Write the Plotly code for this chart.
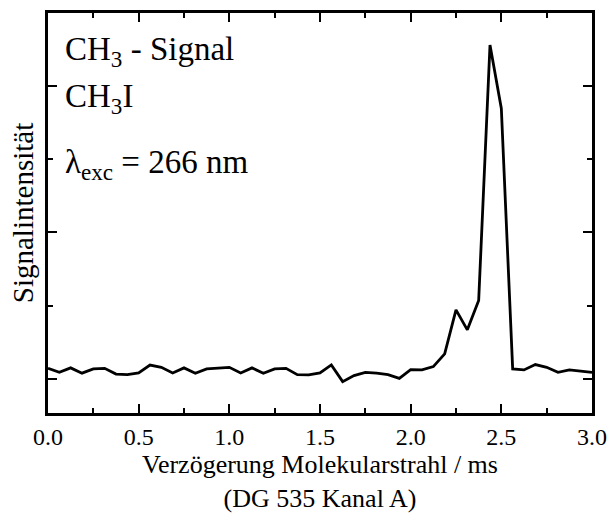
import plotly.graph_objects as go

# Delay (ms), 49 points from 0 to 3 ms
delay_ms = [i * 3 / 48 for i in range(49)]
signal = [0.141, 0.086, 0.147, 0.075, 0.133, 0.141, 0.062, 0.055, 0.078, 0.185,
          0.155, 0.078, 0.147, 0.073, 0.133, 0.141, 0.155, 0.078, 0.147, 0.073,
          0.133, 0.141, 0.055, 0.051, 0.078, 0.188, -0.041, 0.041, 0.086, 0.075,
          0.055, 0.004, 0.123, 0.119, 0.164, 0.338, 0.941, 0.667, 1.068, 4.562,
          3.695, 0.133, 0.119, 0.192, 0.155, 0.086, 0.119, 0.103, 0.086]

x_tick_vals = [0.0, 0.5, 1.0, 1.5, 2.0, 2.5, 3.0]
x_tick_text = ["0.0", "0.5", "1.0", "1.5", "2.0", "2.5", "3.0"]

FONT = "Liberation Serif, Times New Roman, serif"

fig = go.Figure()
fig.add_trace(go.Scatter(x=delay_ms, y=signal, mode="lines",
                         line=dict(color="black", width=2.8), showlegend=False))

fig.update_layout(
    width=608, height=513,
    margin=dict(l=48, r=16, t=13, b=100),
    paper_bgcolor="white", plot_bgcolor="white",
    font=dict(family=FONT, color="black", size=24),
    xaxis=dict(
        range=[0, 3], tickvals=x_tick_vals, ticktext=x_tick_text,
        ticks="inside", ticklen=9, tickwidth=2, tickcolor="black",
        showline=True, linewidth=2.5, linecolor="black", mirror="ticks",
        showgrid=False, zeroline=False, automargin=False,
        tickfont=dict(size=24, family=FONT),
        minor=dict(ticks="inside", ticklen=5, tickwidth=2, tickcolor="black", dtick=0.25, showgrid=False),
    ),
    yaxis=dict(
        range=[-0.47, 5.0], tick0=0, dtick=2, showticklabels=False,
        ticks="inside", ticklen=9, tickwidth=2, tickcolor="black",
        showline=True, linewidth=2.5, linecolor="black", mirror="ticks",
        showgrid=False, zeroline=False, automargin=False,
        minor=dict(ticks="inside", ticklen=5, tickwidth=2, tickcolor="black", dtick=1, showgrid=False),
        title=dict(text="Signalintensität", font=dict(size=29, family=FONT), standoff=4),
    ),
)

# x-axis title (two lines)
fig.add_annotation(text="Verzögerung Molekularstrahl / ms<br>(DG 535 Kanal A)",
                   xref="paper", yref="paper", x=0.5, y=-0.087, xanchor="center", yanchor="top",
                   showarrow=False, align="center",
                   font=dict(size=26, family=FONT, color="black"))

labels = [
    ("CH<sub>3</sub> - Signal", 0.903),
    ("CH<sub>3</sub>I", 0.785),
    ("λ<sub>exc</sub> = 266 nm", 0.622),
]
for txt, yy in labels:
    fig.add_annotation(text=txt, xref="paper", yref="paper", x=0.027, y=yy,
                       xanchor="left", yanchor="middle", showarrow=False,
                       font=dict(size=33, family=FONT, color="black"))

fig.write_html("out.html")
